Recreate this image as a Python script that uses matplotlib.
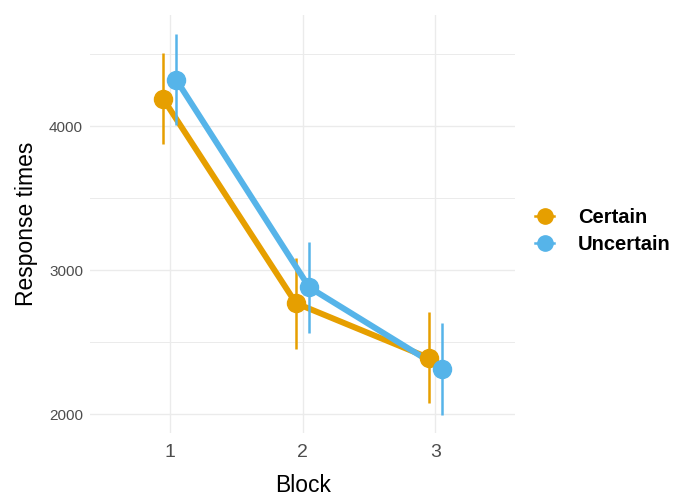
import numpy as np
import matplotlib
matplotlib.use("Agg")
import matplotlib.pyplot as plt
from matplotlib.lines import Line2D

plt.rcParams["font.family"] = ["Liberation Sans", "DejaVu Sans"]

# Datos
bloques = [1, 2, 3]
grupos = ["Certain", "Uncertain"]
medias = {
    "Certain":   [4190, 2770, 2390],
    "Uncertain": [4320, 2880, 2312],
}
errores = {
    "Certain":   [316, 316, 316],
    "Uncertain": [316, 316, 320],
}
colores = {"Certain": "#E69F00", "Uncertain": "#56B4E9"}
desplaz = {"Certain": -0.05, "Uncertain": 0.05}

fig = plt.figure(figsize=(6.75, 4.99), dpi=100)
ax = fig.add_axes([0.1333, 0.132, 0.630, 0.838])

for g in grupos:
    x = np.array(bloques) + desplaz[g]
    y = np.array(medias[g])
    e = np.array(errores[g])
    ax.plot(x, y, color=colores[g], linewidth=4.3, solid_capstyle="butt", zorder=3)
    ax.vlines(x, y - e, y + e, color=colores[g], linewidth=1.8, zorder=3)
    ax.plot(x, y, "o", color=colores[g], markersize=13, zorder=4)

ax.set_xlim(0.4, 3.6)
ax.set_ylim(1868, 4771)
ax.set_xticks(bloques)
ax.set_yticks([2000, 3000, 4000])
ax.set_yticks([2500, 3500, 4500], minor=True)
ax.tick_params(axis="x", labelsize=14, colors="#4D4D4D", length=0, pad=8)
ax.tick_params(axis="y", labelsize=11, colors="#4D4D4D", length=0, pad=5)
ax.tick_params(which="minor", length=0)
ax.grid(which="major", color="#EBEBEB", linewidth=1.0, zorder=0)
ax.grid(which="minor", axis="y", color="#EBEBEB", linewidth=0.7, zorder=0)
ax.set_axisbelow(True)
for sp in ax.spines.values():
    sp.set_visible(False)

ax.set_xlabel("Block", fontsize=16.5, labelpad=9.5)
ax.set_ylabel("Response times", fontsize=16.5, labelpad=8)

handles = [
    Line2D([0], [0], color=colores[g], marker="o", markersize=11, linewidth=1.8)
    for g in grupos
]
leg = ax.legend(handles, grupos, loc="center left", bbox_to_anchor=(1.005, 0.483),
                frameon=False, handlelength=0.9, handletextpad=1.2,
                labelspacing=0.4, prop={"weight": "bold", "size": 14.5})

fig.savefig("out.png", dpi=100)
